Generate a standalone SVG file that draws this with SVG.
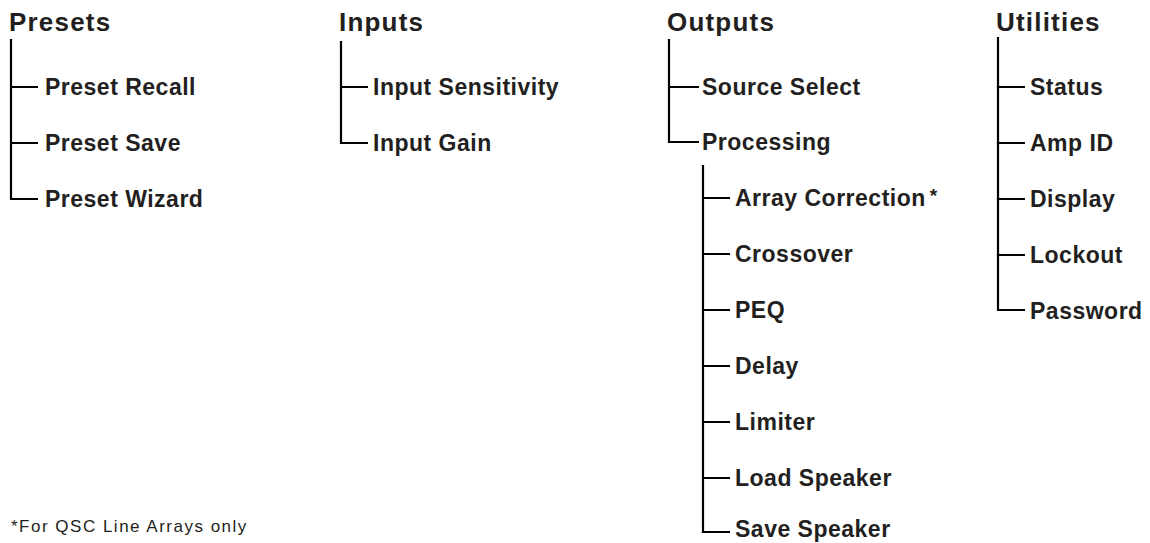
<svg xmlns="http://www.w3.org/2000/svg" width="1150" height="543" viewBox="0 0 1150 543">
<style>
  .title { font-family: "Liberation Sans", Arial, sans-serif; font-weight: bold; font-size: 26px; letter-spacing: 1.2px; fill: #231f20; }
  .item { font-family: "Liberation Sans", Arial, sans-serif; font-weight: bold; font-size: 23px; letter-spacing: 0.5px; fill: #231f20; }
  .note { font-family: "Liberation Sans", Arial, sans-serif; font-size: 17px; letter-spacing: 1.5px; fill: #231f20; }
  .conn { fill: none; stroke: #000; stroke-width: 2.2; }
</style>
<rect width="1150" height="543" fill="#fff"/>
<g id="connectors" class="conn">
  <path d="M11 39 V199 H38 M11 87 H38 M11 143 H38"/>
  <path d="M341 41 V143 H368 M341 87 H368"/>
  <path d="M669 39 V142 H699 M669 87 H699"/>
  <path d="M703 165 V532 H730 M703 198 H730 M703 254 H730 M703 310 H730 M703 366 H730 M703 422 H730 M703 478 H730"/>
  <path d="M998 37 V310 H1025 M998 87 H1025 M998 143 H1025 M998 199 H1025 M998 255 H1025"/>
</g>
<g id="presets"><text class="title" x="9" y="31">Presets</text></g>
<g id="preset-recall"><text class="item" x="45" y="94.5">Preset Recall</text></g>
<g id="preset-save"><text class="item" x="45" y="150.5">Preset Save</text></g>
<g id="preset-wizard"><text class="item" x="45" y="206.5">Preset Wizard</text></g>
<g id="inputs"><text class="title" x="339" y="31">Inputs</text></g>
<g id="input-sensitivity"><text class="item" x="373" y="94.5">Input Sensitivity</text></g>
<g id="input-gain"><text class="item" x="373" y="150.5">Input Gain</text></g>
<g id="outputs"><text class="title" x="667" y="31">Outputs</text></g>
<g id="source-select"><text class="item" x="702" y="94.5">Source Select</text></g>
<g id="processing"><text class="item" x="702" y="149.5">Processing</text></g>
<g id="array-correction"><text class="item" x="735" y="205.5">Array Correction<tspan dx="4" dy="-4" font-size="19">*</tspan></text></g>
<g id="crossover"><text class="item" x="735" y="261.5">Crossover</text></g>
<g id="peq"><text class="item" x="735" y="317.5">PEQ</text></g>
<g id="delay"><text class="item" x="735" y="373.5">Delay</text></g>
<g id="limiter"><text class="item" x="735" y="429.5">Limiter</text></g>
<g id="load-speaker"><text class="item" x="735" y="485.5">Load Speaker</text></g>
<g id="save-speaker"><text class="item" x="735" y="537">Save Speaker</text></g>
<g id="utilities"><text class="title" x="996" y="31">Utilities</text></g>
<g id="status"><text class="item" x="1030" y="94.5">Status</text></g>
<g id="amp-id"><text class="item" x="1030" y="150.5">Amp ID</text></g>
<g id="display"><text class="item" x="1030" y="206.5">Display</text></g>
<g id="lockout"><text class="item" x="1030" y="262.5">Lockout</text></g>
<g id="password"><text class="item" x="1030" y="318.5">Password</text></g>
<g id="footnote"><text class="note" x="11" y="532">*For QSC Line Arrays only</text></g>
</svg>
